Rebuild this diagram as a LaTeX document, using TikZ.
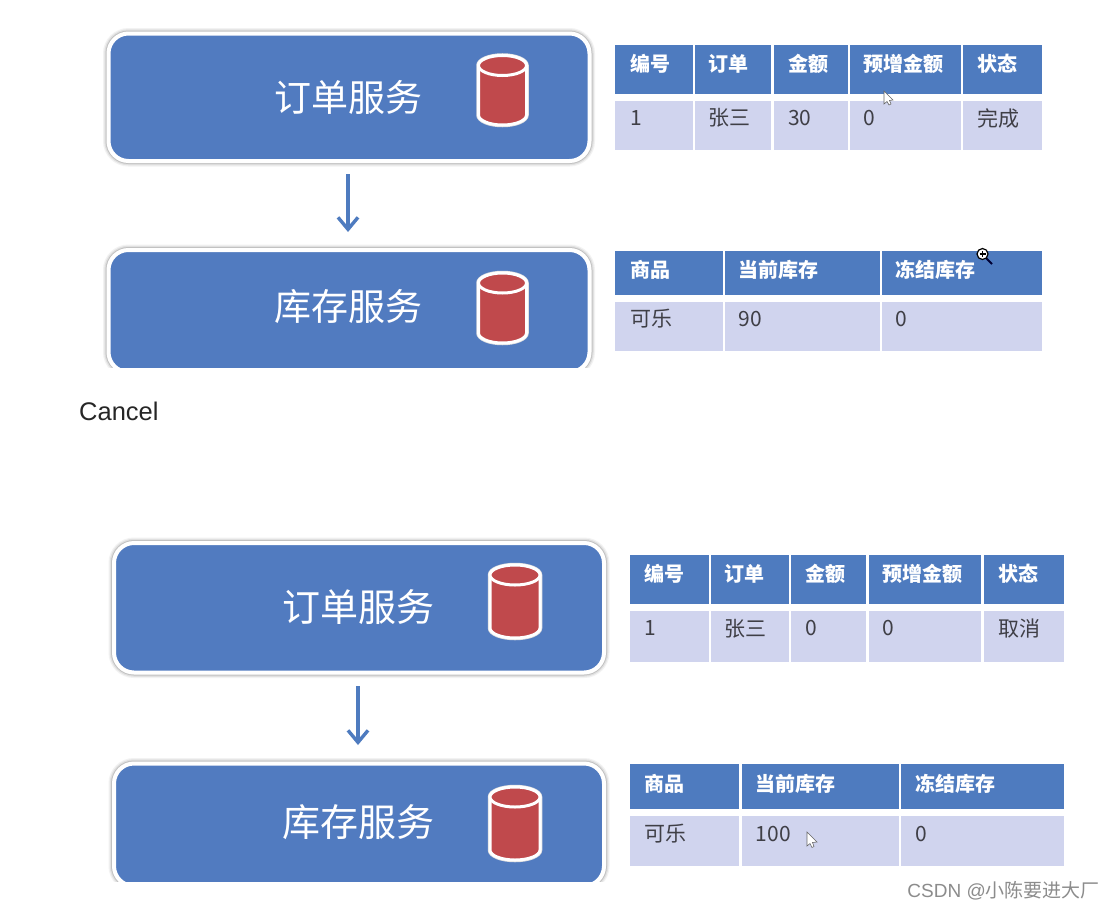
\documentclass[tikz,border=0pt]{standalone}
\usepackage{fontspec}
\setmainfont{Noto Sans CJK SC}
\newfontfamily\lat{Liberation Sans}
\usetikzlibrary{arrows.meta}
\definecolor{svcblue}{HTML}{517BC0}
\definecolor{headblue}{HTML}{4E7BBF}
\definecolor{bodylav}{HTML}{D0D4EE}
\definecolor{dbred}{HTML}{C0494C}
\definecolor{txtdark}{HTML}{3F3F46}
\definecolor{wm}{HTML}{8C8C8C}
\tikzset{
  x=1pt,y=-1pt,
  svctext/.style={font=\fontsize{37}{37}\selectfont,text=white,anchor=center,inner sep=0pt},
  headcell/.style={fill=headblue},
  bodycell/.style={fill=bodylav},
  headtext/.style={font=\bfseries\fontsize{20}{20}\selectfont,text=white,anchor=west,inner sep=0pt},
  bodytext/.style={font=\fontsize{21}{21}\selectfont,text=txtdark,anchor=west,inner sep=0pt},
  flow/.style={draw=headblue,line width=3.4pt,-{Straight Barb[length=12pt,width=20pt,line width=3.4pt]}},
  ring/.style={draw=white,line width=4pt,fill=svcblue,
    preaction={draw=black!5,line width=11pt},preaction={draw=black!12,line width=8.5pt},preaction={draw=black!24,line width=6pt}},
  cyl/.style={draw=white,line width=3pt,fill=dbred},
  pointer/.style={draw=black!60,fill=white,line width=.6pt},
}
% cell: name, x0, y0, x1, y1, style, text-style, text x, text y, text
\newcommand{\tcell}[9]{\path[#6] (#2,#3) rectangle (#4,#5);\node[#7] (#1) at (#8,#9)}
% cylinder: centre x, top y of centre line, bottom y of centre line, half width
\newcommand{\dbcyl}[4]{%
  \path[cyl,preaction={draw=black!12,line width=4.5pt}] (#1-#4,#2+10) -- (#1-#4,#3-10) arc[start angle=180,end angle=360,x radius=#4pt,y radius=10pt] -- (#1+#4,#2+10) arc[start angle=0,end angle=180,x radius=#4pt,y radius=10pt] -- cycle;
  \draw[cyl] (#1,#2+10) ellipse[x radius=#4pt,y radius=10pt];
}
\begin{document}
\begin{tikzpicture}
\useasboundingbox[fill=white] (0,0) rectangle (1115,910);

% ---------- upper pair of services
\path[ring,rounded corners=20pt] (108.5,33.5) rectangle (589.5,161);
\node[svctext] (svcA) at (348,97) {订单服务};
\dbcyl{502.5}{55.5}{125}{24}

\path[ring,rounded corners=20pt] (108.5,250) rectangle (589.5,372);
\path[fill=white] (95,368) rectangle (605,382);
\node[svctext] (svcB) at (348,307) {库存服务};
\dbcyl{502.5}{273}{343}{24}

\coordinate (arrA1) at (348,174);
\coordinate (arrA2) at (348,232);
\draw[flow] (arrA1) -- (arrA2);

% ---------- table 1
\tcell{a1}{615.3}{45.3}{692.7}{94.3}{headcell}{headtext}{630}{64}{编号};
\tcell{a2}{695.3}{45.3}{771.3}{94.3}{headcell}{headtext}{708.5}{64}{订单};
\tcell{a3}{774.3}{45.3}{847.7}{94.3}{headcell}{headtext}{788}{64}{金额};
\tcell{a4}{850.3}{45.3}{960.7}{94.3}{headcell}{headtext}{863.5}{64}{预增金额};
\tcell{a5}{963.3}{45.3}{1042}{94.3}{headcell}{headtext}{977.5}{64}{状态};
\tcell{b1}{615.3}{100.7}{692.7}{150}{bodycell}{bodytext}{630}{118}{1};
\tcell{b2}{695.3}{100.7}{771.3}{150}{bodycell}{bodytext}{708.5}{118}{张三};
\tcell{b3}{774.3}{100.7}{847.7}{150}{bodycell}{bodytext}{788}{118}{30};
\tcell{b4}{850.3}{100.7}{960.7}{150}{bodycell}{bodytext}{863.5}{118}{0};
\tcell{b5}{963.3}{100.7}{1042}{150}{bodycell}{bodytext}{977.5}{118}{完成};

% ---------- table 2
\tcell{c1}{615.3}{251}{722.5}{295}{headcell}{headtext}{630}{270}{商品};
\tcell{c2}{725.3}{251}{879.7}{295}{headcell}{headtext}{738.5}{270}{当前库存};
\tcell{c3}{882.3}{251}{1042}{295}{headcell}{headtext}{895.5}{270}{冻结库存};
\tcell{d1}{615.3}{301.7}{722.5}{350.7}{bodycell}{bodytext}{630}{319}{可乐};
\tcell{d2}{725.3}{301.7}{879.7}{350.7}{bodycell}{bodytext}{738.5}{319}{90};
\tcell{d3}{882.3}{301.7}{1042}{350.7}{bodycell}{bodytext}{895.5}{319}{0};

\node[font=\lat\fontsize{25.5}{25.5}\selectfont,text=black!85,anchor=west,inner sep=0pt] (cancel) at (79,411) {Cancel};

% ---------- lower pair of services
\path[ring,rounded corners=20pt] (114,543) rectangle (604,672.5);
\node[svctext,font=\fontsize{38}{38}\selectfont] (svcC) at (358,607) {订单服务};
\dbcyl{515}{565}{638}{25}

\path[ring,rounded corners=20pt] (114,763.5) rectangle (604,886);
\path[fill=white] (100,882) rectangle (620,895);
\node[svctext,font=\fontsize{38}{38}\selectfont] (svcD) at (358,822) {库存服务};
\dbcyl{515}{787}{860}{25}

\coordinate (arrB1) at (358,686);
\coordinate (arrB2) at (358,745);
\draw[flow] (arrB1) -- (arrB2);

% ---------- table 3
\tcell{e1}{630}{555}{708.7}{604.3}{headcell}{headtext}{644.5}{574}{编号};
\tcell{e2}{711}{555}{789}{604.3}{headcell}{headtext}{724.5}{574}{订单};
\tcell{e3}{791.3}{555}{866}{604.3}{headcell}{headtext}{805.5}{574}{金额};
\tcell{e4}{868.7}{555}{981.3}{604.3}{headcell}{headtext}{882}{574}{预增金额};
\tcell{e5}{984}{555}{1063.7}{604.3}{headcell}{headtext}{998.5}{574}{状态};
\tcell{f1}{630}{611}{708.7}{661.7}{bodycell}{bodytext}{644.5}{628.5}{1};
\tcell{f2}{711}{611}{789}{661.7}{bodycell}{bodytext}{724.5}{628.5}{张三};
\tcell{f3}{791.3}{611}{866}{661.7}{bodycell}{bodytext}{805.5}{628.5}{0};
\tcell{f4}{868.7}{611}{981.3}{661.7}{bodycell}{bodytext}{882}{628.5}{0};
\tcell{f5}{984}{611}{1063.7}{661.7}{bodycell}{bodytext}{998.5}{628.5}{取消};

% ---------- table 4
\tcell{g1}{630}{764.3}{739}{809.3}{headcell}{headtext}{644.5}{783.5}{商品};
\tcell{g2}{741.7}{764.3}{898.7}{809.3}{headcell}{headtext}{755.5}{783.5}{当前库存};
\tcell{g3}{901.3}{764.3}{1063.7}{809.3}{headcell}{headtext}{915}{783.5}{冻结库存};
\tcell{h1}{630}{816}{739}{865.7}{bodycell}{bodytext}{644.5}{833.5}{可乐};
\tcell{h2}{741.7}{816}{898.7}{865.7}{bodycell}{bodytext}{755.5}{833.5}{100};
\tcell{h3}{901.3}{816}{1063.7}{865.7}{bodycell}{bodytext}{915}{833.5}{0};

% ---------- screen-capture pointers
\path[pointer] (884,91) -- (884,104) -- (887,101.5) -- (889,105) -- (891,104) -- (889.5,100.5) -- (893,100) -- cycle;
\path[pointer] (807,832) -- (807,846) -- (810,843.5) -- (812,847.5) -- (814,846.5) -- (812.5,842.5) -- (817,842) -- cycle;
\draw[line width=2pt,draw=black!80!blue] (986,258) -- (992,264);
\draw[line width=1.2pt,draw=black,fill=white] (982.5,254) circle[radius=5.5pt];
\draw[line width=1.1pt] (979.5,254) -- (985.5,254) (982.5,251) -- (982.5,257);

\node[font=\fontsize{19}{19}\selectfont,text=wm,anchor=east,inner sep=0pt] (mark) at (1100,891) {\lat CSDN @\rmfamily 小陈要进大厂};
\end{tikzpicture}
\end{document}
